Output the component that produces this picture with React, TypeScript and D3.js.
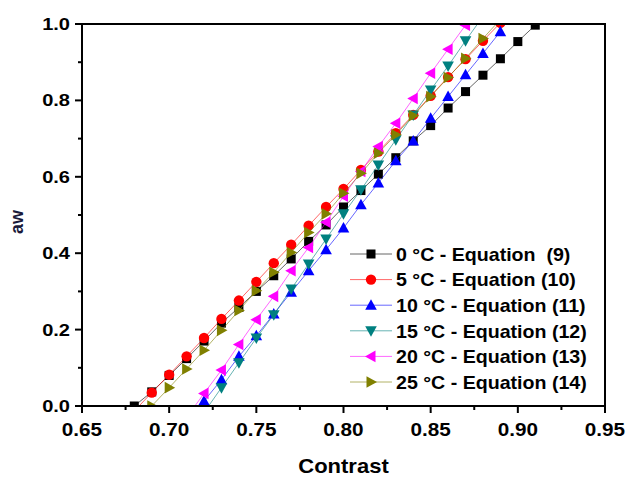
import React from "react";
import * as d3 from "d3";

// Water activity (aw) vs. contrast, one series per temperature
const contrast0 = [0.68, 0.69, 0.70, 0.71, 0.72, 0.73, 0.74, 0.75, 0.76, 0.77, 0.78, 0.79, 0.80, 0.81, 0.82, 0.83, 0.84, 0.85, 0.86, 0.87, 0.88, 0.89, 0.90, 0.91];
const aw0 = [0.000, 0.037, 0.080, 0.124, 0.170, 0.217, 0.258, 0.300, 0.341, 0.385, 0.431, 0.474, 0.521, 0.564, 0.607, 0.650, 0.694, 0.734, 0.780, 0.823, 0.866, 0.909, 0.954, 0.997];

const contrast5 = [0.68, 0.69, 0.70, 0.71, 0.72, 0.73, 0.74, 0.75, 0.76, 0.77, 0.78, 0.79, 0.80, 0.81, 0.82, 0.83, 0.84, 0.85, 0.86, 0.87, 0.88, 0.89];
const aw5 = [-0.013, 0.035, 0.082, 0.130, 0.178, 0.228, 0.276, 0.325, 0.374, 0.422, 0.472, 0.521, 0.568, 0.618, 0.666, 0.714, 0.762, 0.812, 0.861, 0.908, 0.956, 1.003];

const contrast10 = [0.71, 0.72, 0.73, 0.74, 0.75, 0.76, 0.77, 0.78, 0.79, 0.80, 0.81, 0.82, 0.83, 0.84, 0.85, 0.86, 0.87, 0.88, 0.89];
const aw10 = [-0.044, 0.013, 0.069, 0.130, 0.184, 0.241, 0.298, 0.354, 0.409, 0.466, 0.527, 0.584, 0.642, 0.694, 0.753, 0.810, 0.867, 0.923, 0.980];

const contrast15 = [0.72, 0.73, 0.74, 0.75, 0.76, 0.77, 0.78, 0.79, 0.80, 0.81, 0.82, 0.83, 0.84, 0.85, 0.86, 0.87, 0.88];
const aw15 = [-0.017, 0.048, 0.113, 0.178, 0.239, 0.306, 0.372, 0.437, 0.503, 0.566, 0.631, 0.697, 0.762, 0.827, 0.890, 0.956, 1.020];

const contrast20 = [0.71, 0.72, 0.73, 0.74, 0.75, 0.76, 0.77, 0.78, 0.79, 0.80, 0.81, 0.82, 0.83, 0.84, 0.85, 0.86, 0.87, 0.88];
const aw20 = [-0.030, 0.033, 0.094, 0.161, 0.226, 0.287, 0.354, 0.415, 0.481, 0.549, 0.614, 0.679, 0.740, 0.805, 0.871, 0.934, 0.997, 1.060];

const contrast25 = [0.69, 0.70, 0.71, 0.72, 0.73, 0.74, 0.75, 0.76, 0.77, 0.78, 0.79, 0.80, 0.81, 0.82, 0.83, 0.84, 0.85, 0.86, 0.87, 0.88, 0.89];
const aw25 = [0.000, 0.048, 0.097, 0.146, 0.198, 0.250, 0.302, 0.350, 0.402, 0.454, 0.503, 0.557, 0.609, 0.662, 0.710, 0.760, 0.810, 0.860, 0.910, 0.962, 1.012];

const seriesLabels = [
  "0 °C - Equation  (9)",
  "5 °C - Equation (10)",
  "10 °C - Equation (11)",
  "15 °C - Equation (12)",
  "20 °C - Equation (13)",
  "25 °C - Equation (14)",
];

const xTicks = [0.65, 0.70, 0.75, 0.80, 0.85, 0.90, 0.95];
const xMinorTicks = [0.675, 0.725, 0.775, 0.825, 0.875, 0.925];
const yTicks = [0.0, 0.2, 0.4, 0.6, 0.8, 1.0];
const yMinorTicks = [0.1, 0.3, 0.5, 0.7, 0.9];

type Shape = "square" | "circle" | "up" | "down" | "left" | "right";

const series: { xs: number[]; ys: number[]; color: string; shape: Shape; label: string }[] = [
  { xs: contrast0, ys: aw0, color: "#000000", shape: "square", label: seriesLabels[0] },
  { xs: contrast5, ys: aw5, color: "#ff0000", shape: "circle", label: seriesLabels[1] },
  { xs: contrast10, ys: aw10, color: "#0000ff", shape: "up", label: seriesLabels[2] },
  { xs: contrast15, ys: aw15, color: "#008080", shape: "down", label: seriesLabels[3] },
  { xs: contrast20, ys: aw20, color: "#ff00ff", shape: "left", label: seriesLabels[4] },
  { xs: contrast25, ys: aw25, color: "#808000", shape: "right", label: seriesLabels[5] },
];

const W = 628;
const H = 480;
const left = 82;
const right = 605;
const top = 24;
const bottom = 406;
const FONT = "'Liberation Sans', Arial, sans-serif";

const x = d3.scaleLinear().domain([0.65, 0.95]).range([left, right]);
const y = d3.scaleLinear().domain([0, 1]).range([bottom, top]);

function Marker({ shape, cx, cy, color }: { shape: Shape; cx: number; cy: number; color: string }) {
  switch (shape) {
    case "square":
      return <rect x={cx - 4.5} y={cy - 4.5} width={9} height={9} fill={color} />;
    case "circle":
      return <circle cx={cx} cy={cy} r={5.2} fill={color} />;
    case "up":
      return <path d={`M${cx},${cy - 6}L${cx + 5.8},${cy + 4.5}L${cx - 5.8},${cy + 4.5}Z`} fill={color} />;
    case "down":
      return <path d={`M${cx},${cy + 6}L${cx + 5.8},${cy - 4.5}L${cx - 5.8},${cy - 4.5}Z`} fill={color} />;
    case "left":
      return <path d={`M${cx - 6},${cy}L${cx + 4.5},${cy - 5.8}L${cx + 4.5},${cy + 5.8}Z`} fill={color} />;
    case "right":
      return <path d={`M${cx + 6},${cy}L${cx - 4.5},${cy - 5.8}L${cx - 4.5},${cy + 5.8}Z`} fill={color} />;
  }
  return null;
}

// Text drawn with a slight horizontal stretch
function WideText({
  tx,
  ty,
  sx,
  size,
  anchor,
  children,
}: {
  tx: number;
  ty: number;
  sx: number;
  size: number;
  anchor?: "start" | "middle" | "end";
  children: React.ReactNode;
}) {
  return (
    <g transform={`translate(${tx},${ty}) scale(${sx},1)`}>
      <text x={0} y={0} textAnchor={anchor || "start"} fontSize={size} fontWeight="bold" style={{ whiteSpace: "pre" }}>
        {children}
      </text>
    </g>
  );
}

export default function App() {
  const line = d3
    .line<[number, number]>()
    .x((d) => x(d[0]))
    .y((d) => y(d[1]));

  const legendX0 = 350;
  const legendX1 = 392;
  const legendTop = 254;
  const legendStep = 25.6;

  return (
    <svg
      width={W}
      height={H}
      style={{ position: "absolute", left: 0, top: 0, background: "#ffffff" }}
      fontFamily={FONT}
    >
      <defs>
        <clipPath id="plot-area">
          <rect x={left} y={top} width={right - left} height={bottom - top} />
        </clipPath>
      </defs>

      <g clipPath="url(#plot-area)">
        {series.map((s, i) => {
          const pts = s.xs.map((v, j) => [v, s.ys[j]] as [number, number]);
          return (
            <g key={i}>
              <path d={line(pts) || ""} fill="none" stroke={s.color} strokeOpacity={0.6} strokeWidth={1} />
              {pts.map((p, j) => (
                <Marker key={j} shape={s.shape} cx={x(p[0])} cy={y(p[1])} color={s.color} />
              ))}
            </g>
          );
        })}
      </g>

      {/* frame */}
      <rect x={left} y={top} width={right - left} height={bottom - top} fill="none" stroke="#000" strokeWidth={2} />

      {/* x axis ticks and labels */}
      {xTicks.map((t) => (
        <g key={`xt${t}`}>
          <line x1={x(t)} x2={x(t)} y1={bottom} y2={bottom + 7} stroke="#000" strokeWidth={2} />
          <WideText tx={x(t)} ty={435.5} sx={1.15} size={18} anchor="middle">
            {t.toFixed(2)}
          </WideText>
        </g>
      ))}
      {xMinorTicks.map((t) => (
        <line key={`xm${t}`} x1={x(t)} x2={x(t)} y1={bottom} y2={bottom + 4} stroke="#000" strokeWidth={2} />
      ))}

      {/* y axis ticks and labels */}
      {yTicks.map((t) => (
        <g key={`yt${t}`}>
          <line x1={left - 7} x2={left} y1={y(t)} y2={y(t)} stroke="#000" strokeWidth={2} />
          <WideText tx={70} ty={y(t) + 6} sx={1.18} size={17} anchor="end">
            {t.toFixed(1)}
          </WideText>
        </g>
      ))}
      {yMinorTicks.map((t) => (
        <line key={`ym${t}`} x1={left - 4} x2={left} y1={y(t)} y2={y(t)} stroke="#000" strokeWidth={2} />
      ))}

      {/* axis titles */}
      <WideText tx={(left + right) / 2} ty={473} sx={1.1} size={20} anchor="middle">
        Contrast
      </WideText>
      <text
        transform={`translate(23, ${(top + bottom) / 2 + 7}) rotate(-90)`}
        textAnchor="middle"
        fontSize={18}
        fontWeight="bold"
        fill="#1a1a3a"
      >
        aw
      </text>

      {/* legend */}
      {series.map((s, i) => {
        const ly = legendTop + i * legendStep;
        return (
          <g key={`lg${i}`}>
            <line x1={legendX0} x2={legendX1} y1={ly} y2={ly} stroke={s.color} strokeOpacity={0.6} strokeWidth={1} />
            <Marker shape={s.shape} cx={(legendX0 + legendX1) / 2} cy={ly} color={s.color} />
            <WideText tx={396} ty={ly + 6.7} sx={1.06} size={18.5}>
              {s.label}
            </WideText>
          </g>
        );
      })}
    </svg>
  );
}
